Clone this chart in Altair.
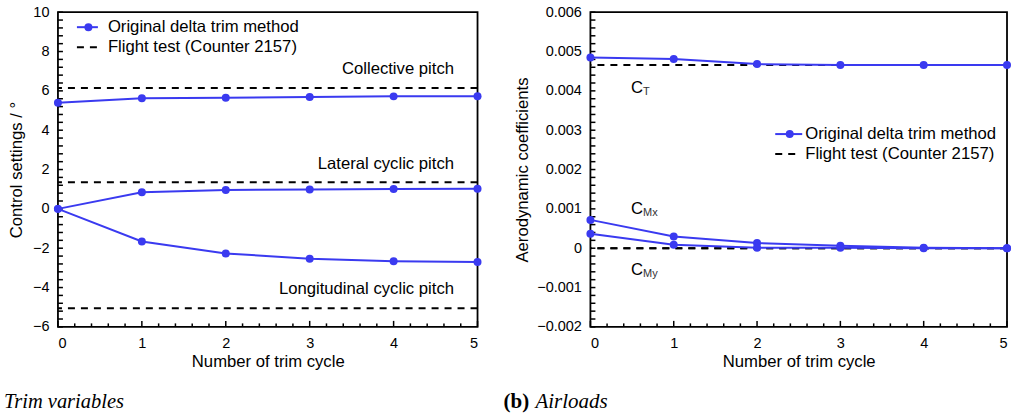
import altair as alt
import pandas as pd

# ---- data -------------------------------------------------------------
cycles = [0, 1, 2, 3, 4, 5]

# (a) trim variables, degrees
collective = [5.39, 5.63, 5.65, 5.69, 5.72, 5.73]
lateral = [0.0, 0.84, 0.96, 0.99, 1.01, 1.02]
longitudinal = [0.0, -1.66, -2.27, -2.53, -2.66, -2.70]
flight_controls = [6.15, 1.35, -5.05]

control_names = ["Collective pitch", "Lateral cyclic pitch", "Longitudinal cyclic pitch"]
control_label_x = [4.72, 4.72, 4.72]
control_label_y = [7.12, 2.3, -4.05]

# (b) airloads, non-dimensional
ct = [0.00485, 0.00481, 0.00468, 0.00466, 0.00466, 0.00466]
cmx = [0.00072, 0.00030, 0.00013, 0.00006, 0.00001, 0.0]
cmy = [0.00037, 0.00009, 0.00001, 0.00001, 0.0, 0.0]
flight_airloads = [0.00466, 0.0, 0.0]

coef_main = ["C", "C", "C"]
coef_sub = ["T", "Mx", "My"]
coef_label_x = [0.56, 0.56, 0.56]
coef_label_y = [0.00406, 0.00099, -0.00055]

# axis ticks
x_major = [0, 1, 2, 3, 4, 5]
x_minor = [round(i * 0.2, 1) for i in range(26) if i % 5]
left_major = [-6, -4, -2, 0, 2, 4, 6, 8, 10]
left_minor = [round(-6 + i * 0.4, 1) for i in range(41) if i % 5]
right_major = [-0.002, -0.001, 0, 0.001, 0.002, 0.003, 0.004, 0.005, 0.006]
right_minor = [round(-0.002 + i * 0.0002, 4) for i in range(41) if i % 5]

legend_labels = ["Original delta trim method", "Flight test (Counter 2157)"]

BLUE = "#3a3af0"
SANS = "Liberation Sans"
SERIF = "Liberation Serif"
FS = 16.7
DASH = [7, 6]


def series_frame(names, columns):
    rows = []
    for name, vals in zip(names, columns):
        for c, v in zip(cycles, vals):
            rows.append({"series": name, "cycle": c, "value": v})
    return pd.DataFrame(rows)


def panel(df, flight, labels, ydom, ymaj, ymin, ytitle, yfmt, W, H,
          title_pad, legend, extra):
    xs = alt.Scale(domain=[0, 5], nice=False, zero=False)
    ys = alt.Scale(domain=ydom, nice=False, zero=False)
    xa = alt.Axis(values=x_major, orient="bottom", ticks=False,
                  domain=False, grid=False, labelPadding=10,
                  title="Number of trim cycle", titlePadding=3)
    ya = alt.Axis(values=ymaj, orient="left", ticks=False,
                  domain=False, grid=False, labelPadding=9,
                  format=yfmt, title=ytitle, titlePadding=title_pad)
    X = alt.X("cycle:Q", scale=xs, axis=xa)
    Y = alt.Y("value:Q", scale=ys, axis=ya)

    base = alt.Chart(df)
    lines = base.mark_line(color=BLUE, strokeWidth=2).encode(x=X, y=Y, detail="series:N")
    pts = base.mark_point(filled=True, color=BLUE, size=64, opacity=1).encode(x=X, y=Y)
    ref = alt.Chart(pd.DataFrame({"value": flight})).mark_rule(
        color="black", strokeWidth=2, strokeDash=DASH).encode(y=Y)

    # inward tick marks along the left and bottom edges of the frame
    def yticks(vals, size):
        return alt.Chart(pd.DataFrame({"value": vals})).mark_rule(
            color="black", strokeWidth=1.5).encode(y=Y, x=alt.value(0), x2=alt.value(size))

    def xticks(vals, size):
        return alt.Chart(pd.DataFrame({"cycle": vals})).mark_rule(
            color="black", strokeWidth=1.5).encode(x=X, y=alt.value(H), y2=alt.value(H - size))

    ticks = [yticks(ymaj, 5), yticks(ymin, 5), xticks(x_major, 6), xticks(x_minor, 3.5)]

    # legend drawn in panel pixel space
    lx, ly, llen, toff = legend
    one = pd.DataFrame({"k": [0]})
    leg_line = alt.Chart(one).mark_rule(color=BLUE, strokeWidth=2).encode(
        x=alt.value(lx), x2=alt.value(lx + llen), y=alt.value(ly))
    leg_pt = alt.Chart(one).mark_point(filled=True, color=BLUE, size=64, opacity=1).encode(
        x=alt.value(lx + llen / 2 + 1), y=alt.value(ly))
    leg_dash = alt.Chart(one).mark_rule(color="black", strokeWidth=2, strokeDash=DASH).encode(
        x=alt.value(lx), x2=alt.value(lx + 20), y=alt.value(ly + 20))
    leg_t1 = alt.Chart(one).mark_text(align="left", baseline="middle", font=SANS,
                                       fontSize=FS, color="black").encode(
        x=alt.value(lx + toff), y=alt.value(ly), text=alt.value(legend_labels[0]))
    leg_t2 = alt.Chart(one).mark_text(align="left", baseline="middle", font=SANS,
                                       fontSize=FS, color="black").encode(
        x=alt.value(lx + toff), y=alt.value(ly + 20), text=alt.value(legend_labels[1]))

    return alt.layer(*ticks, ref, lines, pts, *labels(xs, ys, xa, ya), leg_line, leg_pt,
                     leg_dash, leg_t1, leg_t2, *extra).properties(width=W, height=H)


# ---- panel (a) ---------------------------------------------------------
df_a = series_frame(control_names, [collective, lateral, longitudinal])
ann_a = pd.DataFrame({"t": control_names, "x": control_label_x, "y": control_label_y})


def labels_a(xs, ys, xa, ya):
    return [alt.Chart(ann_a).mark_text(align="right", baseline="middle", font=SANS,
                                        fontSize=FS, color="black").encode(
        x=alt.X("x:Q", scale=xs, axis=xa),
        y=alt.Y("y:Q", scale=ys, axis=ya), text="t:N")]


cap_a = alt.Chart(pd.DataFrame({"k": [0]})).mark_text(
    align="left", baseline="alphabetic", font=SERIF, fontStyle="italic",
    fontSize=20.5, color="black").encode(
    x=alt.value(-54), y=alt.value(396), text=alt.value("Trim variables"))

left = panel(df_a, flight_controls, labels_a, [-6, 10], left_major, left_minor,
             "Control settings / °", "d", 420, 315, 7, (19, 15, 21, 31), [cap_a])

# ---- panel (b) ---------------------------------------------------------
df_b = series_frame(["CT", "CMx", "CMy"], [ct, cmx, cmy])
ann_b = pd.DataFrame({"c": coef_main, "s": coef_sub, "x": coef_label_x, "y": coef_label_y})


def labels_b(xs, ys, xa, ya):
    xe = alt.X("x:Q", scale=xs, axis=xa)
    ye = alt.Y("y:Q", scale=ys, axis=ya)
    big = alt.Chart(ann_b).mark_text(align="center", baseline="middle", font=SANS,
                                      fontSize=FS, color="black").encode(x=xe, y=ye, text="c:N")
    small = alt.Chart(ann_b).mark_text(align="left", baseline="middle", font=SANS,
                                        fontSize=11, color="#333333", dx=6, dy=4).encode(
        x=xe, y=ye, text="s:N")
    return [big, small]


cap_b1 = alt.Chart(pd.DataFrame({"k": [0]})).mark_text(
    align="left", baseline="alphabetic", font=SERIF, fontWeight="bold",
    fontSize=21, color="black").encode(
    x=alt.value(-87), y=alt.value(396), text=alt.value("(b)"))
cap_b2 = alt.Chart(pd.DataFrame({"k": [0]})).mark_text(
    align="left", baseline="alphabetic", font=SERIF, fontStyle="italic",
    fontSize=21, color="black").encode(
    x=alt.value(-55), y=alt.value(396), text=alt.value("Airloads"))

right = panel(df_b, flight_airloads, labels_b, [-0.002, 0.006], right_major, right_minor,
              "Aerodynamic coefficients", "", 417, 315, 5, (185, 122, 27, 30),
              [cap_b1, cap_b2])

chart = alt.hconcat(left, right, spacing=113, bounds="flush").properties(
    padding={"left": 3, "top": 3, "right": 0, "bottom": 0},
    background="white",
).configure_view(stroke="black", strokeWidth=1.8).configure_axis(
    labelFont=SANS, labelFontSize=14.5, labelColor="black",
    titleFont=SANS, titleFontSize=FS, titleFontWeight="normal", titleColor="black",
)

chart.save("out.html", embed_options={"renderer": "svg", "actions": False})
